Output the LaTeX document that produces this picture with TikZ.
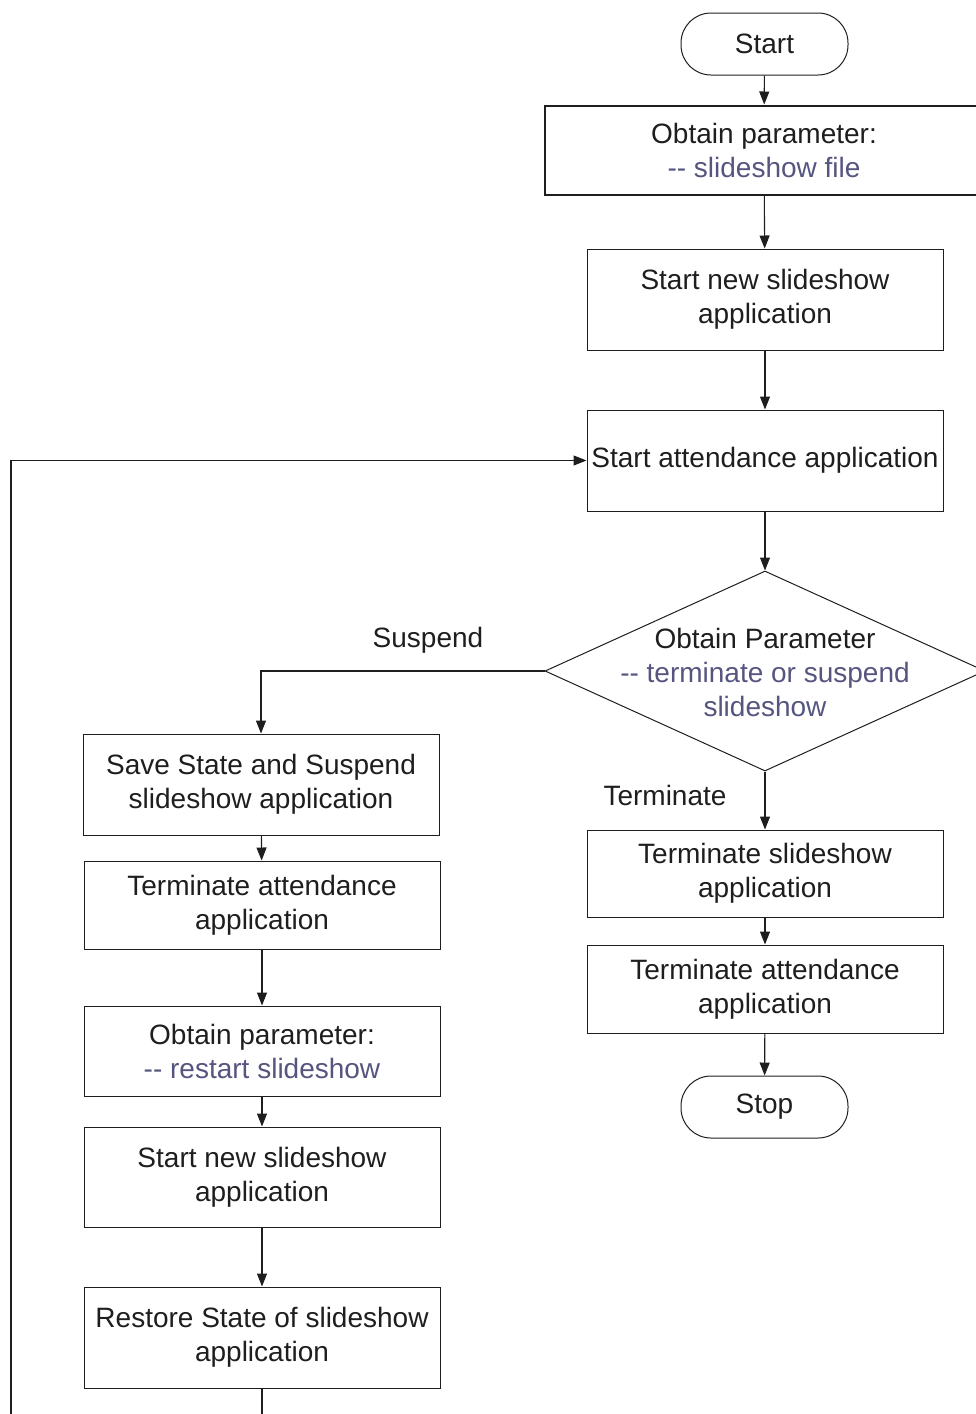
\documentclass[tikz,border=0pt]{standalone}
\usepackage{fontspec}
\setmainfont{Liberation Sans}
\usetikzlibrary{shapes.geometric,arrows.meta}
\definecolor{inkc}{HTML}{1E1E1E}
\definecolor{paramc}{HTML}{55557F}
\newcommand{\dd}{-\kern0pt-}
\begin{document}
\begin{tikzpicture}[x=1pt,y=-1pt,
  every node/.style={font=\fontsize{28}{34}\selectfont, text=inkc},
  box/.style={draw=inkc, line width=1pt, minimum width=356pt, align=center, inner sep=0pt},
  terminal/.style={draw=inkc, line width=1pt, rounded corners=30pt, minimum width=167pt, minimum height=62pt, inner sep=0pt},
  decision/.style={draw=inkc, line width=1pt, diamond, minimum width=440pt, minimum height=200pt, inner sep=0pt},
  conn/.style={draw=inkc, line width=1.1pt},
  flow/.style={conn, -{Triangle[length=13pt,width=10pt]}},
]
\useasboundingbox (0,0) rectangle (976,1414);
\clip (0,0) rectangle (976,1414);

% main column
\node[terminal] (start) at (764.5,44) {Start};
\node[box, line width=2pt, minimum width=438pt, minimum height=89pt] (param) at (764,150)
  {Obtain parameter:\\\textcolor{paramc}{\dd{} slideshow file}};
\node[box, minimum height=101pt] (newshow) at (765,299.5) {Start new slideshow\\application};
\node[box, minimum height=101pt] (attend) at (765,460.5) {Start attendance application};
\node[decision] (dec) at (765,671) {};
\node[align=center] (dectext) at (765,672)
  {Obtain Parameter\\\textcolor{paramc}{\dd{} terminate or suspend}\\\textcolor{paramc}{slideshow}};

% terminate branch
\node[box, minimum height=87pt] (termS) at (765,873.5) {Terminate slideshow\\application};
\node[box, minimum height=88pt] (termA) at (765,989) {Terminate attendance\\application};
\node[terminal] (stop) at (764.5,1107) {Stop};

% suspend branch
\node[box, minimum height=101pt] (save) at (261,784.5) {Save State and Suspend\\slideshow application};
\node[box, minimum height=88pt] (termL) at (262,905) {Terminate attendance\\application};
\node[box, minimum height=90pt] (restart) at (262,1051) {Obtain parameter:\\\textcolor{paramc}{\dd{} restart slideshow}};
\node[box, minimum height=100pt] (newL) at (262,1177) {Start new slideshow\\application};
\node[box, minimum height=101pt] (restore) at (262,1337.5) {Restore State of slideshow\\application};

% branch labels
\node (lsusp) at (428,640) {Suspend};
\node (lterm) at (665,795) {Terminate};

% loose ends at the lower edge
\coordinate (tail) at (262,1414);
\coordinate (loopfoot) at (11,1414);

% connectors
\draw[flow] (start) -- (param);
\draw[flow] (param) -- (newshow);
\draw[flow] (newshow) -- (attend);
\draw[flow] (attend) -- (dec);
\draw[flow] (dec.south) -- (termS);
\draw[flow] (termS) -- (termA);
\draw[flow] (termA) -- (stop);
\draw[flow] (dec.west) -| (save.north);
\draw[flow] (save) -- (termL);
\draw[flow] (termL) -- (restart);
\draw[flow] (restart) -- (newL);
\draw[flow] (newL) -- (restore);
\draw[conn] (restore.south) -- (tail);
\draw[flow] (loopfoot) |- (attend.west);
\end{tikzpicture}
\end{document}
